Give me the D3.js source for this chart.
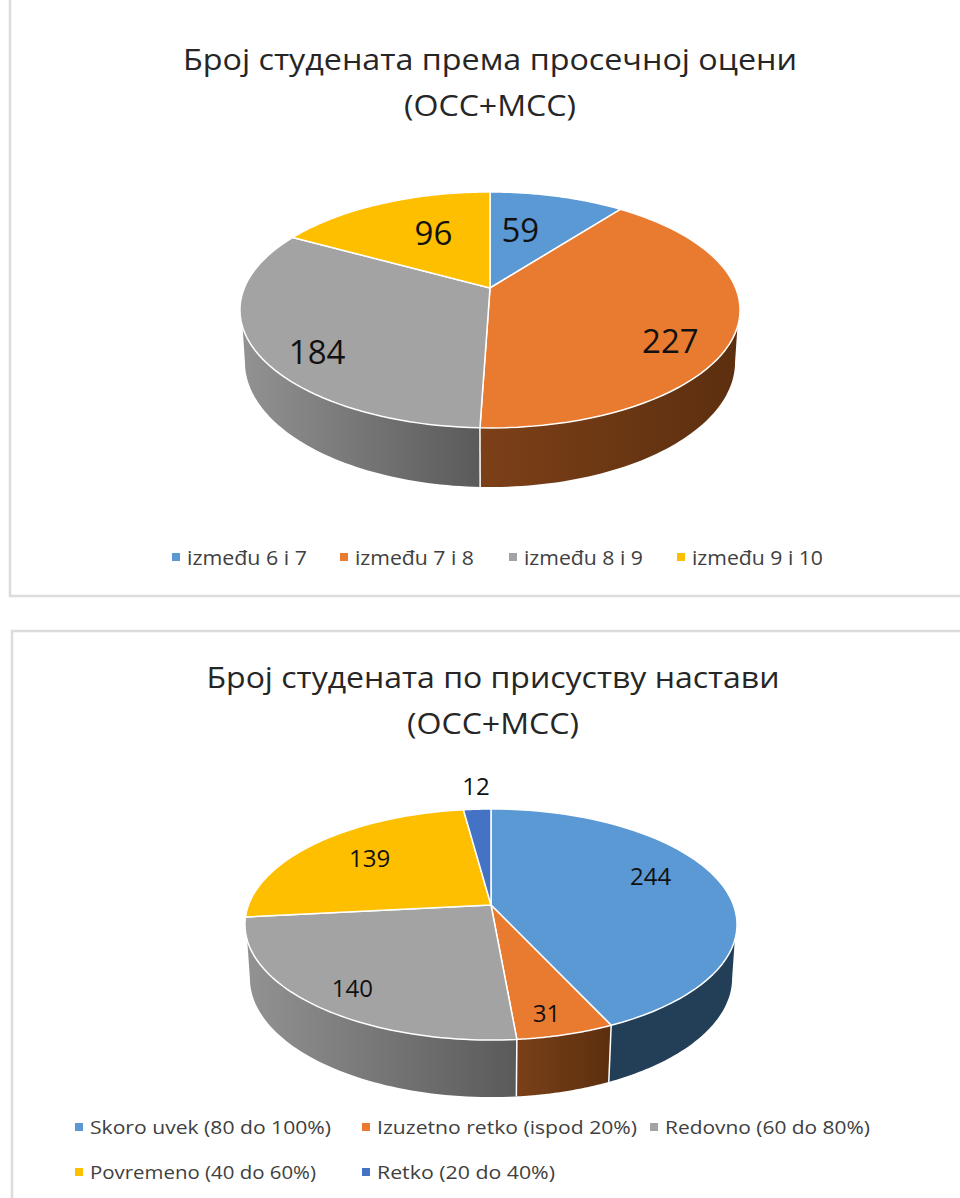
<!DOCTYPE html>
<html><head><meta charset="utf-8">
<style>html,body{margin:0;padding:0;background:#fff}svg{display:block}text{font-family:"Open Sans",sans-serif}</style>
<script src="https://cdn.jsdelivr.net/npm/d3@7"></script></head><body>
<svg id="c" width="960" height="1198"></svg>
<script>
// ---- data
const gradeTitle = ["Број студената према просечној оцени", "(ОСС+МСС)"];
const gradeCategories = ["između 6 i 7", "između 7 i 8", "između 8 i 9", "između 9 i 10"];
const gradeValues = [59, 227, 184, 96];
const attendTitle = ["Број студената по присуству настави", "(ОСС+МСС)"];
const attendCategories = ["Skoro uvek (80 do 100%)", "Izuzetno retko (ispod 20%)", "Redovno (60 do 80%)", "Povremeno (40 do 60%)", "Retko (20 do 40%)"];
const attendValues = [244, 31, 140, 139, 12];

// ---- styles
const gradeColors = ["#5b99d5", "#e97b30", "#a3a3a3", "#fdbf00"];
const gradeWalls = [["#2a4a68", "#223f58"], ["#7c4018", "#5c2f0f"], ["#929292", "#5a5a5a"], ["#8a6a00", "#6a5200"]];
const attendColors = ["#5b99d5", "#e97b30", "#a3a3a3", "#fdbf00", "#4472c4"];
const attendWalls = [["#233f58", "#233f58"], ["#7a4018", "#5c2f0f"], ["#929292", "#5a5a5a"], ["#8a6a00", "#6a5200"], ["#2a4680", "#223a68"]];

// ---- layout
const gradeLayout = {
  cx: 490, cy: 288, rx: 245.7, ry: 113.9, k: 0.186, shrinkX: 0.98, scaleY: 1.06, drop: 50.7,
  wallTop: 108.8, wallBottom: 100.7,
  labelSize: 33, labelFrac: 0.7,
  labelNudge: [[-19, 9], [11, 24], [-13, 21], [22, 6]],
  titleSize: 30, titleY: [58, 104], titleX: 490, titleW: [614, 172],
  legendSize: 20, legendGap: 15, legendBox: 8,
  legendX: [172, 340, 509, 677], legendY: [557, 557, 557, 557], legendW: [120, 119, 119, 131]
};
const attendLayout = {
  cx: 491, cy: 905, rx: 242.5, ry: 112.2, k: 0.169, shrinkX: 0.98, scaleY: 1.03, drop: 53,
  wallTop: 107.3, wallBottom: 99.8,
  labelSize: 24, labelFrac: 0.7,
  labelNudge: [[-2, -13], [6, 22], [-20, 16], [3, -2], [-5, -49]],
  titleSize: 30, titleY: [676, 722], titleX: 493, titleW: [573, 172],
  legendSize: 19, legendGap: 15, legendBox: 8,
  legendX: [75, 362, 650, 75, 362], legendY: [1127, 1127, 1127, 1172, 1172], legendW: [241, 260, 205, 226, 178]
};
const frames = [[10, -4, 960, 600], [12, 631, 960, 600]];

const svg = d3.select("#c");
const defs = svg.append("defs");
svg.selectAll("rect.frame").data(frames).join("rect").attr("class", "frame")
  .attr("x", d => d[0]).attr("y", d => d[1]).attr("width", d => d[2]).attr("height", d => d[3])
  .attr("fill", "#fff").attr("stroke", "#dcdcdc").attr("stroke-width", 2.5);

function drawPie(id, title, cats, vals, colors, walls, L) {
  const g = svg.append("g");
  const project = (deg, f, bottom) => {
    const a = deg * Math.PI / 180, u = f * Math.sin(a), v = -f * Math.cos(a), w = 1 - L.k * v;
    return [L.cx + (bottom ? L.shrinkX : 1) * L.rx * u / w,
            L.cy + (bottom ? L.drop : 0) + (bottom ? L.scaleY : 1) * L.ry * v / w];
  };
  const arcs = d3.pie().sort(null).startAngle(0).endAngle(2 * Math.PI)(vals).map(d => ({
    ...d, a0: d.startAngle * 180 / Math.PI, a1: d.endAngle * 180 / Math.PI
  }));
  const line = d3.line();
  const sweep = (a0, a1) => d3.range(0, 61).map(i => a0 + (a1 - a0) * i / 60);

  // side walls: only the part of each slice that faces the viewer
  arcs.forEach((d, i) => {
    const t0 = Math.max(d.a0, L.wallTop), t1 = Math.min(d.a1, 360 - L.wallTop);
    if (t1 <= t0) return;
    const b0 = Math.max(d.a0, L.wallBottom), b1 = Math.min(d.a1, 360 - L.wallBottom);
    const pts = sweep(t0, t1).map(a => project(a, 1, false))
      .concat(sweep(b1, b0).map(a => project(a, 1, true)));
    const xs = pts.map(p => p[0]);
    const gid = id + "w" + i;
    const lg = defs.append("linearGradient").attr("id", gid).attr("gradientUnits", "userSpaceOnUse")
      .attr("x1", d3.min(xs)).attr("x2", d3.max(xs)).attr("y1", 0).attr("y2", 0);
    lg.append("stop").attr("offset", 0).attr("stop-color", walls[i][0]);
    lg.append("stop").attr("offset", 1).attr("stop-color", walls[i][1]);
    g.append("path").attr("d", line(pts) + "Z").attr("fill", `url(#${gid})`);
  });
  // seams between walls
  arcs.forEach(d => {
    if (d.a0 > L.wallTop && d.a0 < 360 - L.wallTop) {
      g.append("path").attr("d", line([project(d.a0, 1, false), project(d.a0, 1, true)]))
        .attr("stroke", "#fff").attr("stroke-width", 1.5).attr("fill", "none");
    }
  });
  // top faces
  arcs.forEach((d, i) => {
    const pts = [project(0, 0, false)].concat(sweep(d.a0, d.a1).map(a => project(a, 1, false)));
    g.append("path").attr("d", line(pts) + "Z").attr("fill", colors[i])
      .attr("stroke", "#fff").attr("stroke-width", 1.5).attr("stroke-linejoin", "round");
  });
  // value labels
  g.selectAll("text.v").data(arcs).join("text").attr("class", "v")
    .attr("x", (d, i) => project((d.a0 + d.a1) / 2, L.labelFrac, false)[0] + L.labelNudge[i][0])
    .attr("y", (d, i) => project((d.a0 + d.a1) / 2, L.labelFrac, false)[1] + L.labelNudge[i][1])
    .attr("text-anchor", "middle").attr("dominant-baseline", "central")
    .attr("font-size", L.labelSize).attr("fill", "#111").text(d => d.value);
  // title
  g.selectAll("text.t").data(title).join("text").attr("class", "t")
    .attr("x", L.titleX).attr("y", (d, i) => L.titleY[i])
    .attr("text-anchor", "middle").attr("dominant-baseline", "central")
    .attr("font-size", L.titleSize).attr("fill", "#262626")
    .attr("textLength", (d, i) => L.titleW[i]).attr("lengthAdjust", "spacingAndGlyphs").text(d => d);
  // legend
  const lg = g.selectAll("g.l").data(cats).join("g").attr("class", "l")
    .attr("transform", (d, i) => `translate(${L.legendX[i]},${L.legendY[i]})`);
  lg.append("rect").attr("x", 0).attr("y", -L.legendBox / 2).attr("width", L.legendBox).attr("height", L.legendBox)
    .attr("fill", (d, i) => colors[i]);
  lg.append("text").attr("x", L.legendGap).attr("y", 0).attr("dominant-baseline", "central")
    .attr("font-size", L.legendSize).attr("fill", "#404040")
    .attr("textLength", (d, i) => L.legendW[i]).attr("lengthAdjust", "spacingAndGlyphs").text(d => d);
}
drawPie("a", gradeTitle, gradeCategories, gradeValues, gradeColors, gradeWalls, gradeLayout);
drawPie("b", attendTitle, attendCategories, attendValues, attendColors, attendWalls, attendLayout);
</script></body></html>
